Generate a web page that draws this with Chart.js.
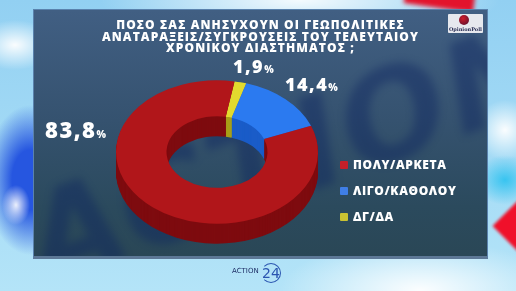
<!DOCTYPE html>
<html lang="el">
<head>
<meta charset="UTF-8">
<title>Γεωπολιτικές αναταραχές</title>
<script src="https://cdn.jsdelivr.net/npm/chart.js"></script>
<style>
    body {
        margin: 0;
        width: 516px;
        height: 291px;
        overflow: hidden;
        position: relative;
        font-family: "Open Sans", Arial, sans-serif;
        background:
            radial-gradient(ellipse 40px 25px at 15px 45px, rgba(255,255,255,.95), rgba(255,255,255,0)),
            radial-gradient(ellipse 200px 40px at 300px 0px, rgba(255,255,255,.9), rgba(255,255,255,0)),
            radial-gradient(ellipse 140px 50px at 420px 290px, rgba(255,255,255,.95), rgba(255,255,255,0)),
            radial-gradient(ellipse 30px 30px at 505px 130px, rgba(255,255,255,.95), rgba(255,255,255,0)),
            radial-gradient(ellipse 30px 25px at 505px 180px, #38c4f0, rgba(56,196,240,0)),
            radial-gradient(ellipse 14px 20px at 16px 205px, rgba(255,255,255,.9), rgba(255,255,255,0)),
            radial-gradient(ellipse 45px 75px at 30px 180px, #2656e0 40%, rgba(38,86,224,0)),
            linear-gradient(180deg, #92d0f2, #b4e4f8);
    }
    .red1 { position: absolute; left: 500px; top: 208px; width: 36px; height: 36px; background: #f0102a; transform: rotate(45deg); filter: blur(1.5px); }
    .red2 { position: absolute; left: 405px; top: -18px; width: 70px; height: 26px; background: #e3132c; transform: rotate(8deg); filter: blur(2px); }
    .panel {
        position: absolute; left: 33px; top: 9px; width: 455px; height: 250px;
        background: linear-gradient(180deg, #415f83 0%, #35526f 45%, #2b4a5d 80%, #2a4756 100%);
        border: 1px solid #5a82ad;
        border-bottom: 3px solid #5d7896;
        box-sizing: border-box;
        overflow: hidden;
    }
    .watermark {
        position: absolute; left: -20px; top: 70px;
        font: italic bold 125px "DejaVu Sans", sans-serif;
        color: #0b2260; opacity: .4; filter: blur(4px);
        transform: rotate(-20deg); letter-spacing: 4px;
    }
    #chart { position: absolute; left: 0; top: 0; }
    .title {
        position: absolute; left: 33px; width: 455px; top: 19px;
        text-align: center; color: #fff; font-weight: 800;
        font-size: 12px; line-height: 11.5px; letter-spacing: 1.1px;
    }
    .logo {
        position: absolute; left: 448px; top: 14px; width: 35px; height: 19px;
        background: #e6e8ee; border-radius: 1px;
    }
    .logo .dot { position: absolute; left: 11px; top: 1px; width: 10px; height: 10px; border-radius: 50%; background: radial-gradient(circle at 40% 35%, #d21a2a, #4a1030); }
    .logo .name { position: absolute; left: 0; width: 35px; top: 12px; text-align: center; font: bold 5px "DejaVu Serif", serif; color: #2a2f55; }
    .lab { position: absolute; color: #fff; font-weight: 800; line-height: 1; letter-spacing: 1.5px; }
    .lab small { font-size: 10px; letter-spacing: 0; }
    .lab0 { left: 45px; top: 118px; font-size: 22px; }
    .lab1 { left: 285px; top: 75px; font-size: 18px; }
    .lab2 { left: 233px; top: 57px; font-size: 18px; }
    .legend { position: absolute; left: 340px; top: 158px; color: #fff; font-weight: 800; font-size: 12px; letter-spacing: .6px; }
    .legend div { height: 26px; line-height: 14px; position: relative; padding-left: 13px; }
    .legend span { position: absolute; left: 0; top: 3px; width: 8px; height: 8px; border-radius: 1px; }
    .footer { position: absolute; left: 232px; top: 267px; color: #1f2f66; font: 7px "DejaVu Sans", sans-serif; }
    .footer b { position: absolute; left: 29px; top: -4px; font: 14px "DejaVu Sans", sans-serif; color: #2a55b0; width: 18px; height: 18px; border: 1px solid #2a55b0; border-radius: 50%; border-left-color: transparent; text-align: center; line-height: 18px; }
</style>
</head>
<body>
<div class="red1"></div>
<div class="red2"></div>
<div class="panel"><div class="watermark">ACTION</div></div>
<canvas id="chart" width="516" height="291"></canvas>
<div class="title">ΠΟΣΟ ΣΑΣ ΑΝΗΣΥΧΟΥΝ ΟΙ ΓΕΩΠΟΛΙΤΙΚΕΣ<br>ΑΝΑΤΑΡΑΞΕΙΣ/ΣΥΓΚΡΟΥΣΕΙΣ ΤΟΥ ΤΕΛΕΥΤΑΙΟΥ<br>ΧΡΟΝΙΚΟΥ ΔΙΑΣΤΗΜΑΤΟΣ ;</div>
<div class="logo"><span class="dot"></span><span class="name">OpinionPoll</span></div>
<div id="labels"></div>
<div class="legend" id="legend"></div>
<div class="footer">ACTION<b>24</b></div>

<script>
    // δεδομένα
    const categories = ['ΠΟΛΥ/ΑΡΚΕΤΑ', 'ΛΙΓΟ/ΚΑΘΟΛΟΥ', 'ΔΓ/ΔΑ'];
    const values = [83.8, 14.4, 1.9];
    const topColors = ['#b1161a', '#2b7af0', '#e2da2e'];
    const sideColors = ['#7e0b0f', '#1a5cc8', '#a89e18'];
    const legendColors = ['#c4202a', '#3f7ee6', '#c9c232'];

    const tilt = 0.71;
    const depth = 20;

    // η πίτα πάει δεξιόστροφα: ΔΓ/ΔΑ, ΛΙΓΟ, ΠΟΛΥ
    const order = [2, 1, 0];

    // ψευδο-3D: πλάγιες επιφάνειες + πλάγια όψη
    const tiltPlugin = {
        id: 'tilt',
        beforeDatasetsDraw(chart) {
            const ctx = chart.ctx;
            const meta = chart.getDatasetMeta(0);
            const cx = meta.data[0].x, cy = meta.data[0].y;
            for (let d = depth; d >= 1; d--) {
                meta.data.forEach((arc, i) => {
                    const p = arc.getProps(['startAngle', 'endAngle', 'outerRadius', 'innerRadius']);
                    ctx.save();
                    ctx.translate(cx, cy + d);
                    ctx.scale(1, tilt);
                    ctx.beginPath();
                    ctx.arc(0, 0, p.outerRadius, p.startAngle, p.endAngle);
                    ctx.arc(0, 0, p.innerRadius, p.endAngle, p.startAngle, true);
                    ctx.closePath();
                    ctx.fillStyle = sideColors[order[i]];
                    ctx.fill();
                    ctx.restore();
                });
            }
            ctx.save();
            ctx.translate(cx, cy);
            ctx.scale(1, tilt);
            ctx.translate(-cx, -cy);
        },
        afterDatasetsDraw(chart) {
            chart.ctx.restore();
        }
    };

    new Chart(document.getElementById('chart'), {
        type: 'doughnut',
        data: {
            labels: order.map(i => categories[i]),
            datasets: [{
                data: order.map(i => values[i]),
                backgroundColor: order.map(i => topColors[i]),
                borderWidth: 0,
                hoverOffset: 0,
                clip: false
            }]
        },
        options: {
            responsive: false,
            animation: false,
            events: [],
            cutout: '50%',
            rotation: 10,
            layout: { padding: { left: 116, right: 198, top: 51, bottom: 38 } },
            plugins: {
                legend: { display: false },
                tooltip: { enabled: false }
            }
        },
        plugins: [tiltPlugin]
    });

    // ετικέτες τιμών
    const fmt = v => v.toFixed(1).replace('.', ',');
    document.getElementById('labels').innerHTML = values
        .map((v, i) => `<div class="lab lab${i}">${fmt(v)}<small>%</small></div>`).join('');

    // υπόμνημα
    document.getElementById('legend').innerHTML = categories
        .map((c, i) => `<div><span style="background:${legendColors[i]}"></span>${c}</div>`).join('');
</script>
</body>
</html>
